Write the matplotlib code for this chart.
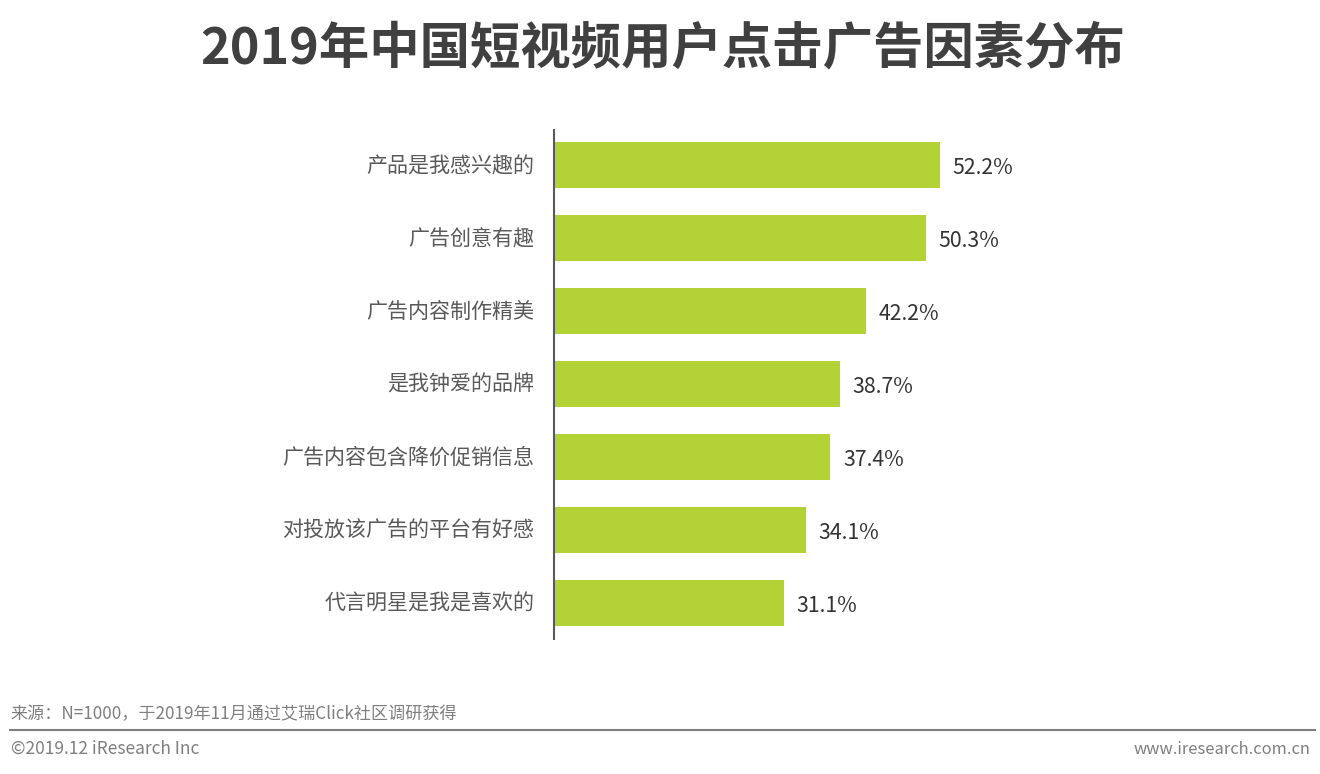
import matplotlib
matplotlib.use('Agg')
import matplotlib.pyplot as plt
from matplotlib.lines import Line2D
from matplotlib.transforms import ScaledTranslation

plt.rcParams['font.family'] = ['Noto Sans CJK SC', 'DejaVu Sans']

categories = ['产品是我感兴趣的', '广告创意有趣', '广告内容制作精美', '是我钟爱的品牌',
              '广告内容包含降价促销信息', '对投放该广告的平台有好感', '代言明星是我是喜欢的']
values = [52.2, 50.3, 42.2, 38.7, 37.4, 34.1, 31.1]

W, H = 1320, 774
fig = plt.figure(figsize=(W / 100, H / 100), dpi=100, facecolor='white')

# axes spans the category area, left edge sits on the dark vertical line
ax = fig.add_axes([554 / W, 1 - 639.5 / H, (W - 554) / W, 511 / H])
ax.barh(range(len(values)), values, height=0.63, color='#B2D235', left=0)
ax.set_ylim(len(values) - 0.5, -0.5)
ax.set_xlim(0, (W - 554) / 7.39)

ax.set_yticks(range(len(categories)))
ax.set_yticklabels(categories, fontsize=15.15, color='#595959')
ax.tick_params(axis='y', length=0, pad=14)
ax.set_xticks([])
for side in ['top', 'right', 'bottom']:
    ax.spines[side].set_visible(False)
ax.spines['left'].set_color('#595959')
ax.spines['left'].set_linewidth(1.5)
ax.spines['left'].set_capstyle('butt')

# labels sit a touch higher than the bar centre in the original
nudge = ScaledTranslation(0, 1.5 / 100, fig.dpi_scale_trans)
for lab in ax.get_yticklabels():
    lab.set_transform(lab.get_transform() + nudge)

for i, v in enumerate(values):
    ax.annotate(f'{v}%', (v, i), xytext=(9, -2), textcoords='offset points',
                va='center', ha='left', fontsize=15.3, color='#333333')

fig.text(663 / W, 1 - 49 / H, '2019年中国短视频用户点击广告因素分布', fontsize=36.25,
         fontweight='bold', color='#404040', ha='center', va='center')

# footer
fig.add_artist(Line2D([10 / W, 1315 / W], [1 - 730 / H, 1 - 730 / H], color='#7F7F7F', lw=1.5))
fig.text(10 / W, 1 - 714 / H, '来源：N=1000，于2019年11月通过艾瑞Click社区调研获得', fontsize=12.3,
         color='#7F7F7F', ha='left', va='center')
fig.text(11 / W, 1 - 749 / H, '©2019.12 iResearch Inc', fontsize=12.5,
         color='#7F7F7F', ha='left', va='center')
fig.text(1310 / W, 1 - 749 / H, 'www.iresearch.com.cn', fontsize=11.9,
         color='#7F7F7F', ha='right', va='center')

fig.savefig('out.png', dpi=100)
